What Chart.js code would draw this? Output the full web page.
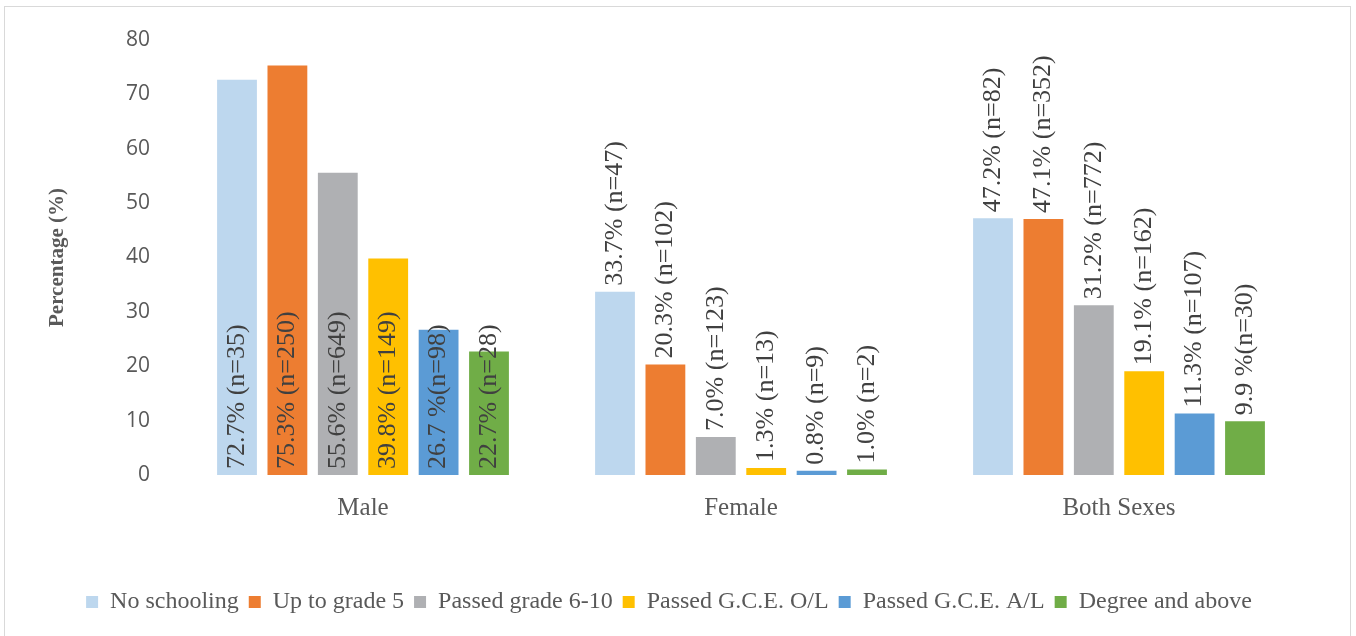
<!DOCTYPE html>
<html>
<head>
<meta charset="utf-8">
<script src="https://cdn.jsdelivr.net/npm/chart.js@4/dist/chart.umd.min.js"></script>
<style>
  body { margin: 0; background: #fff; }
  #wrap { position: relative; width: 1356px; height: 636px; overflow: hidden; }
  #frame { position: absolute; left: 4px; top: 6px; width: 1345px; height: 640px; border: 1px solid #d9d9d9; }
  #box { position: absolute; left: 0; top: 0; width: 1356px; height: 636px; }
</style>
</head>
<body>
<div id="wrap">
  <div id="frame"></div>
  <div id="box"><canvas id="eduChart"></canvas></div>
</div>
<script>
const categories = ["Male", "Female", "Both Sexes"]
const seriesNames = [
    "No schooling",
    "Up to grade 5",
    "Passed grade 6-10",
    "Passed G.C.E. O/L",
    "Passed G.C.E. A/L",
    "Degree and above"
]
const yTicks = [0, 10, 20, 30, 40, 50, 60, 70, 80]

// percentages per series, one value per category
const noSchooling = [72.7, 33.7, 47.2]
const upToGrade5 = [75.3, 20.3, 47.1]
const grade6to10 = [55.6, 7.0, 31.2]
const gceOL = [39.8, 1.3, 19.1]
const gceAL = [26.7, 0.8, 11.3]
const degree = [22.7, 1.0, 9.9]

// label texts as printed on the bars
const noSchoolingText = ["72.7% (n=35)", "33.7% (n=47)", "47.2% (n=82)"]
const upToGrade5Text = ["75.3% (n=250)", "20.3% (n=102)", "47.1% (n=352)"]
const grade6to10Text = ["55.6% (n=649)", "7.0% (n=123)", "31.2% (n=772)"]
const gceOLText = ["39.8% (n=149)", "1.3% (n=13)", "19.1% (n=162)"]
const gceALText = ["26.7 %(n=98)", "0.8% (n=9)", "11.3% (n=107)"]
const degreeText = ["22.7% (n=28)", "1.0% (n=2)", "9.9 %(n=30)"]

const colors = ["#BDD7EE", "#ED7D31", "#AFB0B3", "#FFC000", "#5B9BD5", "#70AD47"]

const values = [noSchooling, upToGrade5, grade6to10, gceOL, gceAL, degree]
const texts = [noSchoolingText, upToGrade5Text, grade6to10Text, gceOLText, gceALText, degreeText]

const barLabels = {
    id: "barLabels",
    afterDatasetsDraw(chart, args, opts) {
        const ctx = chart.ctx
        ctx.save()
        ctx.font = opts.font
        ctx.fillStyle = opts.color
        ctx.textAlign = "left"
        ctx.textBaseline = "middle"
        chart.data.datasets.forEach((ds, i) => {
            chart.getDatasetMeta(i).data.forEach((bar, j) => {
                // first category has its labels inside the bar, from the base up
                const y = opts.insideBase[j] ? bar.base - opts.offset : bar.y - opts.offset
                ctx.save()
                ctx.translate(bar.x, y)
                ctx.rotate(-Math.PI / 2)
                ctx.fillText(ds.valueText[j], 0, 0)
                ctx.restore()
            })
        })
        ctx.restore()
    }
}

const data = {
    labels: categories,
    datasets: seriesNames.map((name, i) => ({
        label: name,
        data: values[i],
        valueText: texts[i],
        backgroundColor: colors[i],
        categoryPercentage: 0.8,
        barPercentage: 0.79
    }))
}

const config = {
    type: "bar",
    data: data,
    plugins: [barLabels],
    options: {
        responsive: true,
        maintainAspectRatio: false,
        animation: false,
        layout: {
            padding: { left: 30, right: 48, top: 40, bottom: 12 }
        },
        scales: {
            x: {
                grid: { display: false, drawTicks: false },
                border: { display: false },
                ticks: {
                    padding: 18,
                    color: "#595959",
                    font: { family: "Liberation Serif", size: 25 }
                },
                afterFit(scale) { scale.height = 105 }
            },
            y: {
                min: 0,
                max: 80,
                afterBuildTicks(scale) { scale.ticks = yTicks.map(v => ({ value: v })) },
                grid: { display: false, drawTicks: false },
                border: { display: false },
                ticks: {
                    padding: 24,
                    color: "#595959",
                    font: { family: "Open Sans", size: 21 }
                },
                title: {
                    display: true,
                    text: "Percentage (%)",
                    color: "#595959",
                    padding: { top: 15, bottom: 0 },
                    font: { family: "Liberation Serif", size: 21, weight: "bold" }
                },
                afterFit(scale) { scale.width = 144 }
            }
        },
        plugins: {
            legend: {
                position: "bottom",
                labels: {
                    boxWidth: 12,
                    boxHeight: 12,
                    padding: 10,
                    color: "#595959",
                    font: { family: "Liberation Serif", size: 24 }
                }
            },
            tooltip: { enabled: false },
            barLabels: {
                font: "26px 'Liberation Serif'",
                color: "#404040",
                offset: 6,
                insideBase: [true, false, false]
            }
        }
    }
}

let ctx = document.getElementById("eduChart")
new Chart(ctx, config)
</script>
</body>
</html>
